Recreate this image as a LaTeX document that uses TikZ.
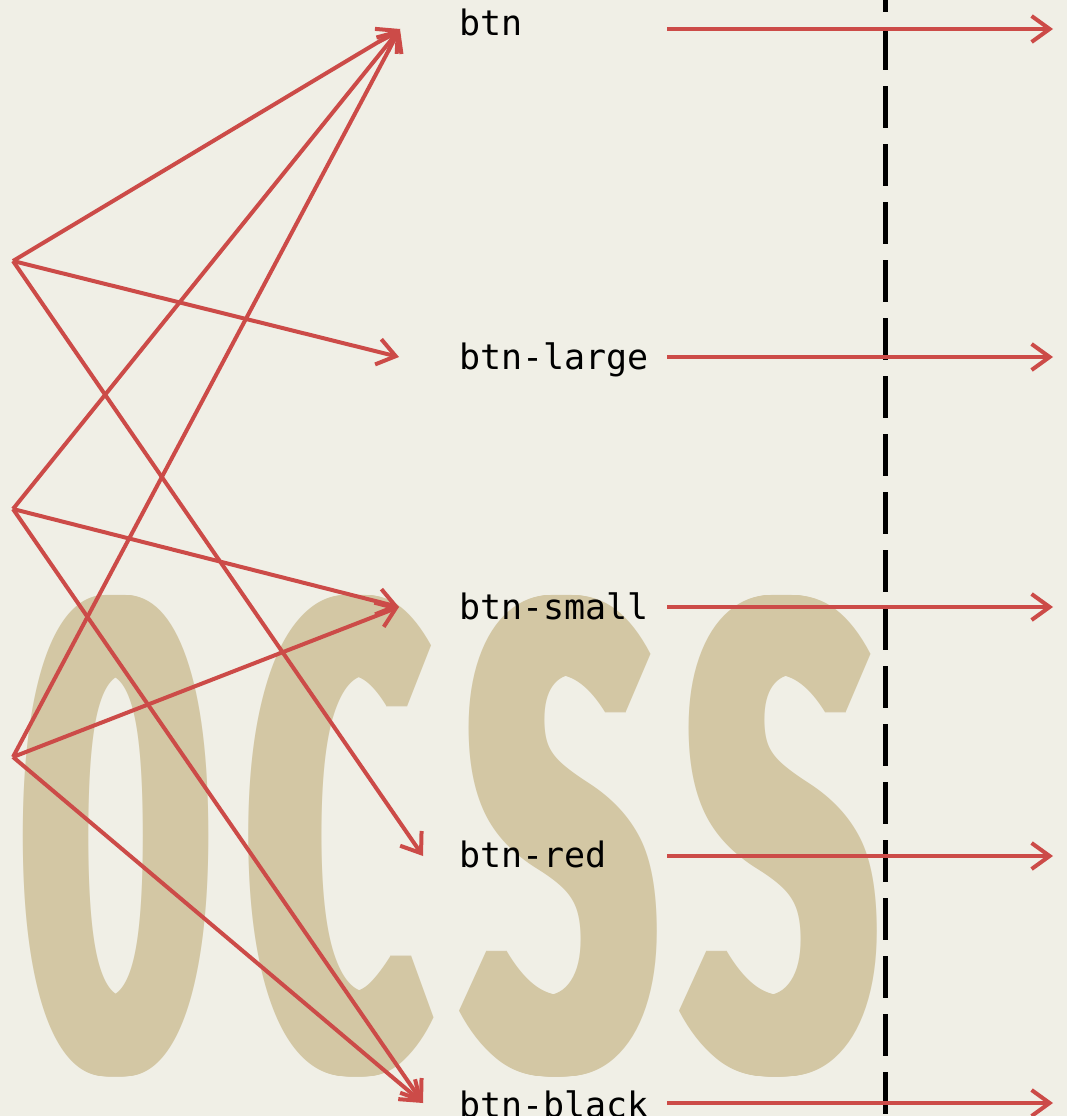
\documentclass[tikz,border=0pt]{standalone}
\usepackage{fontspec}
\usepackage{xcolor}
\usepackage{tikz}
\usetikzlibrary{arrows.meta}

\newfontfamily\labelfont{DejaVu Sans Mono}
\newfontfamily\bigfont{Fira Sans}

\definecolor{paper}{RGB}{240,239,230}
\definecolor{sand}{RGB}{211,199,164}
\definecolor{flowred}{RGB}{204,75,72}

\begin{document}
\begin{tikzpicture}[
    x=1pt, y=-1pt,
    flow/.style  ={draw=flowred, line width=4pt, -{Straight Barb[length=18pt, width=26pt]}},
    lbl/.style   ={font=\labelfont\fontsize{35}{40}\selectfont, anchor=base west, inner sep=0pt},
    letter/.style={inner sep=0pt, anchor=north west, text=sand},
    cutline/.style={draw=black, line width=5pt, dash pattern=on 42pt off 16pt, dash phase=30pt}
]
% Background and bounding box
\fill[paper] (0,0) rectangle (1067,1116);
\useasboundingbox (0,0) rectangle (1067,1116);

% Big background letters (shifted copies make the stems heavier)
\foreach \nm/\ch/\xx/\ww in {lo/O/14/183, lc/C/238/178, ls1/S/456/189, ls2/S/676/189}
  \foreach \dx in {0,1,...,20}
    \node[letter] (\nm-\dx) at (\xx+\dx,595) {\resizebox*{\ww pt}{480pt}{\bigfont\bfseries \ch}};

% Dashed cut line
\coordinate (cut-top) at (885,0);
\coordinate (cut-bot) at (885,1116);
\draw[cutline] (cut-top) -- (cut-bot);

% Class labels
\node[lbl] (btn)   at (459,36)   {btn};
\node[lbl] (large) at (459,369)  {btn-large};
\node[lbl] (small) at (459,619)  {btn-small};
\node[lbl] (red)   at (459,867)  {btn-red};
\node[lbl] (black) at (459,1117) {btn-black};

% Arrow ends next to each label
\foreach \n/\y/\xin in {btn/29/400, large/357/399, small/607/399, red/856/423, black/1103/423} {
  \coordinate (\n-in)  at (\xin,\y);
  \coordinate (\n-out) at (667,\y);
  \coordinate (\n-end) at (1053,\y);
}

% Sources on the left
\coordinate (sa) at (13,261);
\coordinate (sb) at (13,509);
\coordinate (sc) at (13,757);

% Crossing connectors
\foreach \s/\t in {sa/btn, sa/large, sa/red, sb/btn, sb/small, sb/black, sc/btn, sc/small, sc/black}
  \draw[flow] (\s) -- (\t-in);

% Outgoing arrows
\foreach \n in {btn, large, small, red, black}
  \draw[flow] (\n-out) -- (\n-end);
\end{tikzpicture}
\end{document}
